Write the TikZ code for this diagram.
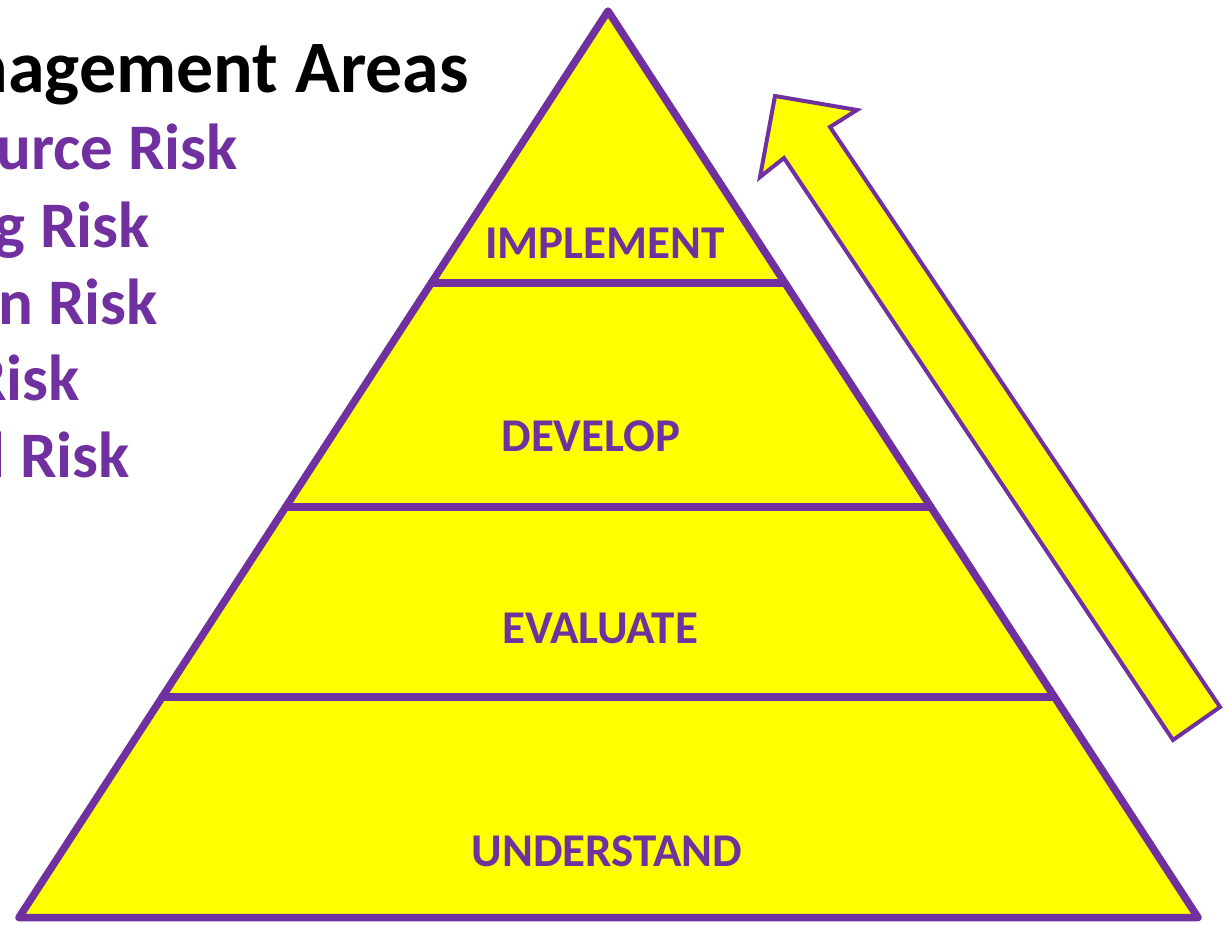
\documentclass[tikz,border=0pt]{standalone}
\usepackage{fontspec}
\setmainfont{Carlito}
\usetikzlibrary{calc}
\definecolor{pp}{HTML}{7030A0}
\definecolor{yy}{HTML}{FFFF00}
\begin{document}
\begin{tikzpicture}[x=1pt,y=-1pt,
  edge/.style={draw=pp,line width=7.5pt,line join=round,line cap=round},
  lab/.style={font=\bfseries\fontsize{47}{47}\selectfont,text=pp,anchor=base,inner sep=0pt},
  item/.style={font=\bfseries\fontsize{65}{65}\selectfont,text=pp,anchor=base east,inner sep=0pt},
  ttl/.style={font=\bfseries\fontsize{74}{74}\selectfont,text=black,anchor=base east,inner sep=0pt},
  arrowshape/.style={fill=yy,draw=pp,line width=4pt,line join=miter}]
\useasboundingbox (0,0) rectangle (1228,924);
\clip (0,0) rectangle (1228,924);
% pyramid
\coordinate (A) at (608,11);
\coordinate (L) at (19,917.5);
\coordinate (R) at (1198,917.5);
\coordinate (L1) at ($(A)!0.3001!(L)$);
\coordinate (R1) at ($(A)!0.3001!(R)$);
\coordinate (L2) at ($(A)!0.5472!(L)$);
\coordinate (R2) at ($(A)!0.5472!(R)$);
\coordinate (L3) at ($(A)!0.7568!(L)$);
\coordinate (R3) at ($(A)!0.7568!(R)$);
\fill[yy] (A) -- (L) -- (R) -- cycle;
\draw[edge] (A) -- (L) -- (R) -- cycle;
\draw[edge] (L1) -- (R1);
\draw[edge] (L2) -- (R2);
\draw[edge] (L3) -- (R3);
% labels
\node[lab] (impl) at (605,258) {IMPLEMENT};
\node[lab] (dev) at (591,451) {DEVELOP};
\node[lab] (eval) at (600,643) {EVALUATE};
\node[lab] (und) at (607,866) {UNDERSTAND};
% arrow
\draw[arrowshape] (775,96) -- (857,110) -- (830,127) -- (1220,707) -- (1173,740) -- (784,158) -- (760,177) -- cycle;
% left text
\node[ttl] (title) at (469,92) {Risk Management Areas};
\node[item] (i1) at (238,169) {Human Resource Risk};
\node[item] (i2) at (150,247) {Marketing Risk};
\node[item] (i3) at (158,324) {Production Risk};
\node[item] (i4) at (80,400) {Legal Risk};
\node[item] (i5) at (130,477) {Financial Risk};
\end{tikzpicture}
\end{document}
